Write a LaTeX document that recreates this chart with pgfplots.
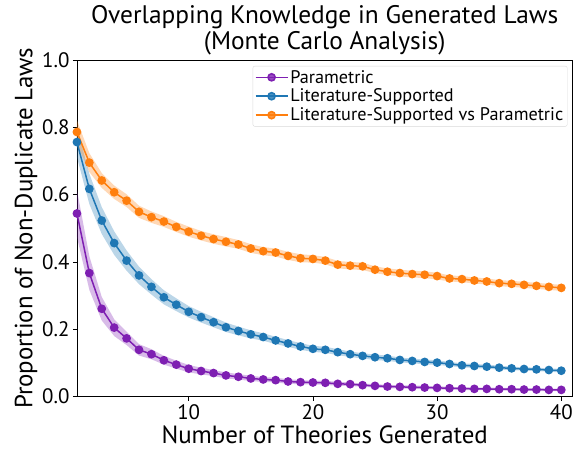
\documentclass[border=0pt]{standalone}
\usepackage{pgfplots}
\pgfplotsset{compat=1.18}
\usepackage{pgfplotstable}
\usepgfplotslibrary{fillbetween}
\usepackage{fontspec}
\setmainfont{PT Sans}
\definecolor{cpur}{RGB}{126,31,178}
\definecolor{cblu}{RGB}{31,119,180}
\definecolor{cora}{RGB}{255,127,14}

\pgfplotstableread{
x y e
1 0.544 0.070
2 0.367 0.050
3 0.261 0.035
4 0.205 0.025
5 0.173 0.020
6 0.139 0.017
7 0.126 0.015
8 0.108 0.013
9 0.095 0.012
10 0.083 0.011
11 0.076 0.010
12 0.070 0.009
13 0.063 0.009
14 0.059 0.008
15 0.054 0.008
16 0.051 0.007
17 0.049 0.007
18 0.045 0.007
19 0.043 0.006
20 0.042 0.006
21 0.041 0.006
22 0.038 0.006
23 0.037 0.005
24 0.034 0.005
25 0.032 0.005
26 0.030 0.005
27 0.029 0.005
28 0.028 0.005
29 0.027 0.005
30 0.026 0.005
31 0.025 0.004
32 0.024 0.004
33 0.023 0.004
34 0.023 0.004
35 0.022 0.004
36 0.022 0.004
37 0.021 0.004
38 0.021 0.004
39 0.020 0.004
40 0.020 0.004
}\parametric

\pgfplotstableread{
x y e
1 0.756 0.045
2 0.617 0.045
3 0.523 0.040
4 0.456 0.035
5 0.404 0.030
6 0.360 0.026
7 0.326 0.023
8 0.295 0.021
9 0.273 0.019
10 0.252 0.017
11 0.236 0.016
12 0.221 0.015
13 0.206 0.014
14 0.195 0.013
15 0.185 0.012
16 0.177 0.011
17 0.167 0.011
18 0.158 0.010
19 0.149 0.010
20 0.142 0.009
21 0.139 0.009
22 0.132 0.009
23 0.126 0.008
24 0.121 0.008
25 0.117 0.008
26 0.114 0.008
27 0.109 0.007
28 0.106 0.007
29 0.103 0.007
30 0.101 0.007
31 0.097 0.006
32 0.093 0.006
33 0.091 0.006
34 0.089 0.006
35 0.086 0.006
36 0.084 0.005
37 0.082 0.005
38 0.081 0.005
39 0.079 0.005
40 0.077 0.005
}\litsup

\pgfplotstableread{
x y e
1 0.786 0.035
2 0.695 0.028
3 0.642 0.022
4 0.607 0.020
5 0.582 0.019
6 0.549 0.018
7 0.533 0.017
8 0.520 0.016
9 0.504 0.015
10 0.490 0.015
11 0.478 0.014
12 0.468 0.014
13 0.460 0.014
14 0.452 0.013
15 0.440 0.013
16 0.432 0.012
17 0.428 0.012
18 0.418 0.012
19 0.411 0.012
20 0.409 0.011
21 0.404 0.011
22 0.392 0.011
23 0.389 0.011
24 0.387 0.011
25 0.377 0.010
26 0.371 0.010
27 0.367 0.010
28 0.364 0.010
29 0.362 0.010
30 0.358 0.010
31 0.351 0.009
32 0.349 0.009
33 0.345 0.009
34 0.342 0.009
35 0.337 0.009
36 0.335 0.009
37 0.332 0.009
38 0.329 0.009
39 0.326 0.009
40 0.323 0.009
}\litvspar

\begin{document}
\begin{tikzpicture}
\begin{axis}[
  scale only axis,
  width=496bp, height=337bp,
  xmin=1, xmax=40.9, ymin=0, ymax=1,
  xtick={10,20,30,40},
  ytick={0,0.2,0.4,0.6,0.8,1.0},
  yticklabel style={/pgf/number format/.cd,fixed,fixed zerofill,precision=1},
  /pgf/number format/assume math mode=true,
  tick align=outside,
  xtick pos=left, ytick pos=left,
  major tick length=4bp,
  tick style={black, line width=0.8bp},
  axis line style={black, line width=0.8bp},
  ticklabel style={font=\fontsize{21}{24}\selectfont},
  xlabel={Number of Theories Generated},
  ylabel={Proportion of Non-Duplicate Laws},
  label style={font=\fontsize{25}{28}\selectfont},
  xlabel style={yshift=0bp},
  ylabel style={yshift=-2bp},
  title={Overlapping Knowledge in Generated Laws\\(Monte Carlo Analysis)},
  title style={font=\fontsize{25.5}{26}\selectfont, align=center, yshift=-5bp},
  legend cell align=left,
  legend style={at={(1,1)}, xshift=-5bp, yshift=-6bp, anchor=north east,
    draw=black!15, rounded corners=2pt, fill=white, fill opacity=0.8, text opacity=1,
    font=\fontsize{18.3}{21}\selectfont, row sep=0.5bp, inner sep=2bp},
  legend image code/.code={\draw[mark repeat=2,mark phase=2] plot coordinates {(0bp,0bp) (16bp,0bp) (32bp,0bp)};},
  every axis plot/.append style={line width=1.5bp},
  clip=true,
]
% bands
\addplot[draw=none, forget plot, name path=pu] table[x=x, y expr=\thisrow{y}+\thisrow{e}] {\parametric};
\addplot[draw=none, forget plot, name path=pl] table[x=x, y expr=\thisrow{y}-\thisrow{e}] {\parametric};
\addplot[cpur, fill opacity=0.3, draw=none, forget plot] fill between[of=pu and pl];
\addplot[draw=none, forget plot, name path=bu] table[x=x, y expr=\thisrow{y}+\thisrow{e}] {\litsup};
\addplot[draw=none, forget plot, name path=bl] table[x=x, y expr=\thisrow{y}-\thisrow{e}] {\litsup};
\addplot[cblu, fill opacity=0.3, draw=none, forget plot] fill between[of=bu and bl];
\addplot[draw=none, forget plot, name path=ou] table[x=x, y expr=\thisrow{y}+\thisrow{e}] {\litvspar};
\addplot[draw=none, forget plot, name path=ol] table[x=x, y expr=\thisrow{y}-\thisrow{e}] {\litvspar};
\addplot[cora, fill opacity=0.3, draw=none, forget plot] fill between[of=ou and ol];
% lines
\addplot[cpur, mark=*, mark size=3.6bp, mark options={solid, draw=cpur, fill=cpur}] table[x=x, y=y] {\parametric};
\addlegendentry{Parametric}
\addplot[cblu, mark=*, mark size=3.6bp, mark options={solid, draw=cblu, fill=cblu}] table[x=x, y=y] {\litsup};
\addlegendentry{Literature-Supported}
\addplot[cora, mark=*, mark size=3.6bp, mark options={solid, draw=cora, fill=cora}] table[x=x, y=y] {\litvspar};
\addlegendentry{Literature-Supported vs Parametric}
\end{axis}
\path[use as bounding box] (-77bp,-56bp) rectangle (499bp,397bp);
\end{tikzpicture}
\end{document}
